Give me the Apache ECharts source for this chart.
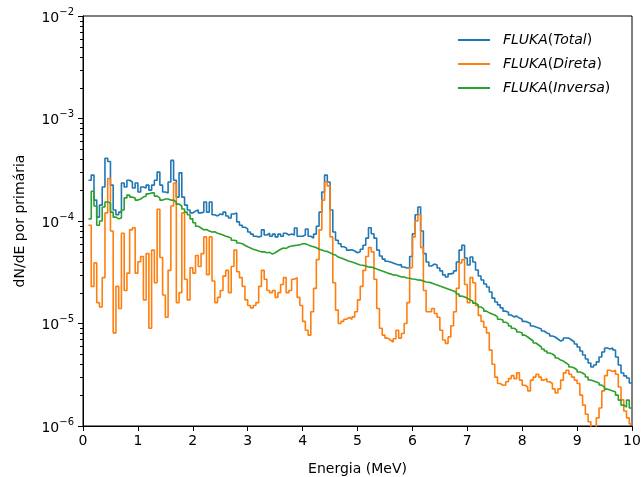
<!DOCTYPE html>
<html>
<head>
<meta charset="utf-8">
<script src="https://cdn.jsdelivr.net/npm/echarts@6/dist/echarts.min.js"></script>
<style>
  html, body { margin: 0; padding: 0; background: #fff; }
  #chart { width: 643px; height: 477px; }
</style>
</head>
<body>
<div id="chart"></div>
<script>
// Histogram binning (MeV): bins start at binStart, each binWidth wide
const binStart = 0.10;
const binWidth = 0.05;
const xMax = 10;

const seriesNames = ['Total', 'Direta', 'Inversa'];

// dN/dE per primary, one value per bin
const total = [
  2.5e-4, 2.8e-4, 1.6e-4, 1.09e-4, 1.43e-4, 2.15e-4, 4.1e-4, 3.8e-4, 2.24e-4, 1.28e-4,
  1.15e-4, 1.22e-4, 2.35e-4, 2.15e-4, 2.5e-4, 2.4e-4, 2.1e-4, 2.35e-4, 1.92e-4, 2.15e-4,
  2.1e-4, 2.24e-4, 2.0e-4, 2.24e-4, 2.5e-4, 3.0e-4, 2.24e-4, 1.92e-4, 1.88e-4, 2.4e-4,
  3.9e-4, 2.5e-4, 1.71e-4, 2.95e-4, 1.71e-4, 1.43e-4, 1.28e-4, 1.2e-4, 1.25e-4, 1.28e-4,
  1.2e-4, 1.22e-4, 1.53e-4, 1.22e-4, 1.53e-4, 1.15e-4, 1.12e-4, 1.17e-4, 1.15e-4, 1.22e-4,
  1.12e-4, 1.07e-4, 1.17e-4, 1.2e-4, 9.8e-5, 9.1e-5, 8.7e-5, 8.35e-5, 7.8e-5, 7.45e-5,
  7.1e-5, 7.0e-5, 7.1e-5, 8.2e-5, 7.3e-5, 7.6e-5, 7.1e-5, 7.45e-5, 7.0e-5, 7.45e-5,
  7.1e-5, 7.6e-5, 7.3e-5, 7.45e-5, 7.3e-5, 8.55e-5, 7.1e-5, 7.1e-5, 7.3e-5, 8.35e-5,
  7.1e-5, 6.8e-5, 7.45e-5, 8.9e-5, 1.22e-4, 1.92e-4, 2.8e-4, 2.4e-4, 1.28e-4, 7.8e-5,
  6.5e-5, 6.0e-5, 5.6e-5, 5.45e-5, 5.2e-5, 5.25e-5, 5.1e-5, 4.9e-5, 5.0e-5, 5.3e-5,
  5.8e-5, 6.8e-5, 8.6e-5, 7.5e-5, 6.8e-5, 5.2e-5, 4.55e-5, 4.25e-5, 4.05e-5, 3.98e-5,
  3.9e-5, 3.8e-5, 3.72e-5, 3.75e-5, 3.56e-5, 3.48e-5, 3.5e-5, 4.5e-5, 7.5e-5, 1.15e-4,
  1.37e-4, 8.0e-5, 4.8e-5, 3.98e-5, 3.64e-5, 3.8e-5, 3.72e-5, 3.48e-5, 3.26e-5, 2.98e-5,
  2.84e-5, 3.05e-5, 3.1e-5, 3.26e-5, 3.98e-5, 5.2e-5, 5.8e-5, 4.35e-5, 3.72e-5, 4.45e-5,
  3.98e-5, 3.33e-5, 2.91e-5, 2.66e-5, 2.43e-5, 2.27e-5, 2.03e-5, 1.77e-5, 1.62e-5, 1.52e-5,
  1.42e-5, 1.32e-5, 1.29e-5, 1.21e-5, 1.16e-5, 1.18e-5, 1.13e-5, 1.1e-5, 1.05e-5, 1.03e-5,
  1.0e-5, 9.45e-6, 9.24e-6, 9.04e-6, 8.84e-6, 8.45e-6, 8.08e-6, 7.9e-6, 7.55e-6, 7.38e-6,
  7.06e-6, 6.75e-6, 6.9e-6, 7.22e-6, 7.2e-6, 6.9e-6, 6.6e-6, 6.3e-6, 5.9e-6, 5.39e-6,
  4.93e-6, 4.5e-6, 4.12e-6, 3.76e-6, 3.94e-6, 4.22e-6, 4.71e-6, 5.27e-6, 5.77e-6, 5.64e-6,
  5.77e-6, 5.51e-6, 4.71e-6, 3.94e-6, 3.29e-6, 3.08e-6, 2.94e-6, 2.63e-6
];

const direta = [
  9.1e-5, 2.3e-5, 3.9e-5, 1.6e-5, 1.45e-5, 2.8e-5, 1.2e-4, 2.6e-4, 8.0e-5, 8.1e-6,
  2.3e-5, 1.4e-5, 7.6e-5, 2.1e-5, 3.1e-5, 8.2e-5, 8.6e-5, 3.1e-5, 4.0e-5, 4.5e-5,
  1.7e-5, 4.8e-5, 9.0e-6, 5.2e-5, 2.5e-5, 1.3e-4, 4.4e-5, 1.9e-5, 1.15e-5, 3.3e-5,
  1.4e-4, 2.35e-4, 1.6e-5, 2.0e-5, 1.2e-4, 2.7e-5, 1.7e-5, 3.5e-5, 3.1e-5, 4.6e-5,
  3.6e-5, 4.8e-5, 7.0e-5, 3.0e-5, 7.0e-5, 2.6e-5, 1.6e-5, 1.8e-5, 2.1e-5, 2.9e-5,
  3.3e-5, 2.0e-5, 3.6e-5, 5.2e-5, 3.2e-5, 2.8e-5, 2.3e-5, 1.7e-5, 1.5e-5, 1.42e-5,
  1.5e-5, 1.6e-5, 2.3e-5, 3.3e-5, 2.7e-5, 2.1e-5, 2.0e-5, 2.1e-5, 1.8e-5, 2.0e-5,
  2.4e-5, 2.8e-5, 2.0e-5, 2.1e-5, 2.7e-5, 2.8e-5, 1.8e-5, 1.5e-5, 1.05e-5, 8.6e-6,
  7.7e-6, 1.3e-5, 2.2e-5, 4.2e-5, 8.2e-5, 1.6e-4, 2.4e-4, 2.2e-4, 7.0e-5, 2.5e-5,
  1.35e-5, 1.0e-5, 1.05e-5, 1.1e-5, 1.15e-5, 1.1e-5, 1.16e-5, 1.3e-5, 1.7e-5, 2.3e-5,
  3.3e-5, 4.5e-5, 5.5e-5, 5.0e-5, 2.7e-5, 1.4e-5, 9.0e-6, 7.7e-6, 7.2e-6, 6.9e-6,
  6.6e-6, 7.1e-6, 8.6e-6, 7.2e-6, 8.0e-6, 1.0e-5, 1.6e-5, 3.5e-5, 7.0e-5, 1.0e-4,
  1.15e-4, 5.5e-5, 2.1e-5, 1.3e-5, 1.3e-5, 1.4e-5, 1.25e-5, 1.15e-5, 8.6e-6, 6.9e-6,
  6.4e-6, 7.4e-6, 9.5e-6, 1.3e-5, 2.2e-5, 3.9e-5, 4.2e-5, 2.4e-5, 1.6e-5, 2.8e-5,
  2.5e-5, 1.5e-5, 1.2e-5, 1.05e-5, 9.2e-6, 8.1e-6, 5.5e-6, 4.0e-6, 3.0e-6, 2.6e-6,
  2.5e-6, 2.5e-6, 2.7e-6, 2.9e-6, 3.1e-6, 2.9e-6, 3.3e-6, 2.8e-6, 2.5e-6, 2.4e-6,
  2.2e-6, 2.8e-6, 3.0e-6, 3.2e-6, 3.0e-6, 2.8e-6, 2.9e-6, 2.7e-6, 2.6e-6, 2.3e-6,
  2.1e-6, 2.3e-6, 2.8e-6, 3.3e-6, 3.5e-6, 3.2e-6, 3.0e-6, 2.8e-6, 2.6e-6, 2.0e-6,
  1.6e-6, 1.3e-6, 1.1e-6, 8.0e-7, 8.0e-7, 1.2e-6, 1.5e-6, 2.2e-6, 3.1e-6, 3.5e-6,
  3.4e-6, 3.5e-6, 3.2e-6, 2.4e-6, 1.8e-6, 1.4e-6, 1.2e-6, 1.05e-6
];

const inversa = [
  1.05e-4, 1.95e-4, 1.4e-4, 9.1e-5, 1.0e-4, 1.37e-4, 1.53e-4, 1.5e-4, 1.22e-4, 1.09e-4,
  1.05e-4, 1.07e-4, 1.28e-4, 1.68e-4, 1.79e-4, 1.71e-4, 1.68e-4, 1.6e-4, 1.64e-4, 1.71e-4,
  1.75e-4, 1.84e-4, 1.88e-4, 1.88e-4, 1.75e-4, 1.68e-4, 1.6e-4, 1.64e-4, 1.64e-4, 1.6e-4,
  1.6e-4, 1.53e-4, 1.46e-4, 1.4e-4, 1.31e-4, 1.22e-4, 1.15e-4, 1.05e-4, 9.6e-5, 8.9e-5,
  8.55e-5, 8.2e-5, 8.25e-5, 8.0e-5, 7.8e-5, 7.85e-5, 7.6e-5, 7.45e-5, 7.3e-5, 7.1e-5,
  7.0e-5, 6.8e-5, 6.5e-5, 6.4e-5, 6.1e-5, 6.0e-5, 5.8e-5, 5.6e-5, 5.45e-5, 5.3e-5,
  5.2e-5, 5.1e-5, 5.0e-5, 5.0e-5, 4.9e-5, 4.95e-5, 4.75e-5, 4.9e-5, 5.1e-5, 5.3e-5,
  5.45e-5, 5.4e-5, 5.6e-5, 5.7e-5, 5.75e-5, 5.8e-5, 5.85e-5, 6.0e-5, 6.0e-5, 5.85e-5,
  5.7e-5, 5.6e-5, 5.5e-5, 5.3e-5, 5.2e-5, 5.1e-5, 5.05e-5, 4.9e-5, 4.75e-5, 4.65e-5,
  4.45e-5, 4.35e-5, 4.25e-5, 4.15e-5, 4.05e-5, 3.98e-5, 3.9e-5, 3.8e-5, 3.72e-5, 3.7e-5,
  3.64e-5, 3.56e-5, 3.55e-5, 3.48e-5, 3.4e-5, 3.33e-5, 3.26e-5, 3.18e-5, 3.1e-5, 3.05e-5,
  2.98e-5, 2.97e-5, 2.91e-5, 2.84e-5, 2.85e-5, 2.78e-5, 2.76e-5, 2.72e-5, 2.7e-5, 2.66e-5,
  2.65e-5, 2.6e-5, 2.54e-5, 2.53e-5, 2.49e-5, 2.43e-5, 2.38e-5, 2.32e-5, 2.27e-5, 2.22e-5,
  2.17e-5, 2.12e-5, 2.07e-5, 2.03e-5, 1.94e-5, 1.85e-5, 1.81e-5, 1.77e-5, 1.7e-5, 1.66e-5,
  1.58e-5, 1.52e-5, 1.45e-5, 1.39e-5, 1.32e-5, 1.27e-5, 1.24e-5, 1.21e-5, 1.16e-5, 1.1e-5,
  1.08e-5, 1.03e-5, 9.9e-6, 9.45e-6, 9.0e-6, 8.64e-6, 8.26e-6, 8.08e-6, 7.7e-6, 7.38e-6,
  7.06e-6, 6.75e-6, 6.45e-6, 6.17e-6, 5.9e-6, 5.64e-6, 5.39e-6, 5.15e-6, 5.04e-6, 4.82e-6,
  4.6e-6, 4.4e-6, 4.3e-6, 4.12e-6, 3.94e-6, 3.76e-6, 3.68e-6, 3.52e-6, 3.36e-6, 3.29e-6,
  3.15e-6, 3.01e-6, 2.81e-6, 2.75e-6, 2.69e-6, 2.63e-6, 2.51e-6, 2.4e-6, 2.29e-6, 2.24e-6,
  2.2e-6, 2.15e-6, 2.0e-6, 1.79e-6, 1.6e-6, 1.53e-6, 1.79e-6, 1.5e-6
];

const xTicks = [0, 1, 2, 3, 4, 5, 6, 7, 8, 9, 10];
const yMin = 1e-6, yMax = 1e-2;

const colors = ['#1f77b4', '#ff7f0e', '#2ca02c'];
const FONT = 'DejaVu Sans';

// Step histogram: each point is a bin's lower edge; one closing point at the last edge
function stepData(values) {
  const pts = values.map((v, i) => [+(binStart + i * binWidth).toFixed(4), v]);
  pts.push([+(binStart + values.length * binWidth).toFixed(4), values[values.length - 1]]);
  return pts;
}

const chart = echarts.init(document.getElementById('chart'), null, { renderer: 'canvas' });

const GRID = { left: 83, right: 11, top: 16, bottom: 51 };

chart.setOption({
  animation: false,
  backgroundColor: '#fff',
  textStyle: { fontFamily: FONT },
  grid: Object.assign({
    show: true, borderColor: '#000', borderWidth: 1, backgroundColor: 'transparent',
    containLabel: false, outerBoundsMode: 'none'
  }, GRID),
  legend: {
    orient: 'vertical',
    left: 457,
    top: 33,
    padding: 0,
    itemWidth: 32,
    itemHeight: 14,
    itemGap: 10,
    data: seriesNames,
    // plain line samples, no marker
    itemStyle: { opacity: 0, color: 'transparent', borderWidth: 0 },
    formatter: name => '{g|}{i|FLUKA}{p|(}{i|' + name + '}{p|)}',
    textStyle: {
      color: '#000',
      fontSize: 14,
      rich: {
        g: { width: 8 },
        i: { fontFamily: FONT, fontSize: 14, fontStyle: 'italic', color: '#000' },
        p: { fontFamily: FONT, fontSize: 14, color: '#000' }
      }
    }
  },
  xAxis: {
    type: 'value',
    min: 0,
    max: xMax,
    interval: 1,
    name: 'Energia (MeV)',
    nameLocation: 'middle',
    nameGap: 36,
    nameTextStyle: { fontFamily: FONT, fontSize: 14, color: '#000' },
    axisLine: { show: true, lineStyle: { color: '#000', width: 1 } },
    axisTick: { show: true, inside: false, length: 5, lineStyle: { color: '#000', width: 1 } },
    axisLabel: { fontFamily: FONT, fontSize: 14, color: '#000', margin: 8,
      formatter: v => (xTicks.indexOf(v) >= 0 ? String(v) : '') },
    splitLine: { show: false }
  },
  yAxis: {
    type: 'log',
    logBase: 10,
    min: yMin,
    max: yMax,
    name: 'dN/dE por primária',
    nameLocation: 'middle',
    nameGap: 56,
    nameRotate: 90,
    nameTextStyle: { fontFamily: FONT, fontSize: 14, color: '#000' },
    axisLine: { show: true, lineStyle: { color: '#000', width: 1 } },
    axisTick: { show: true, inside: false, length: 5, lineStyle: { color: '#000', width: 1 } },
    axisLabel: {
      margin: 9,
      color: '#000',
      formatter: v => {
        const e = Math.round(Math.log10(v));
        return '{b|10}{s|' + (e < 0 ? '\u2212' : '') + Math.abs(e) + '}';
      },
      rich: {
        b: { fontFamily: FONT, fontSize: 14, color: '#000', lineHeight: 18, verticalAlign: 'bottom' },
        s: { fontFamily: FONT, fontSize: 10, color: '#000', lineHeight: 10, verticalAlign: 'top' }
      }
    },
    splitLine: { show: false }
  },
  series: [total, direta, inversa].map((vals, k) => ({
    name: seriesNames[k],
    type: 'line',
    step: 'end',
    data: stepData(vals),
    symbol: 'none',
    showSymbol: false,
    clip: true,
    color: colors[k],
    lineStyle: { color: colors[k], width: 1.6 },
    emphasis: { disabled: true }
  }))
});

// Minor ticks of the log axis at 2..9 x 10^n, placed through the axis scale
(function drawMinorTicks() {
  const elements = [];
  const x0 = GRID.left;
  for (let n = -6; n < -2; n++) {
    for (let k = 2; k <= 9; k++) {
      const v = k * Math.pow(10, n);
      const y = Math.round(chart.convertToPixel({ yAxisIndex: 0 }, v)) + 0.5;
      elements.push({
        type: 'line',
        silent: true,
        shape: { x1: x0 - 3, y1: y, x2: x0, y2: y },
        style: { stroke: '#000', lineWidth: 1 }
      });
    }
  }
  chart.setOption({ graphic: elements });
})();
</script>
</body>
</html>
